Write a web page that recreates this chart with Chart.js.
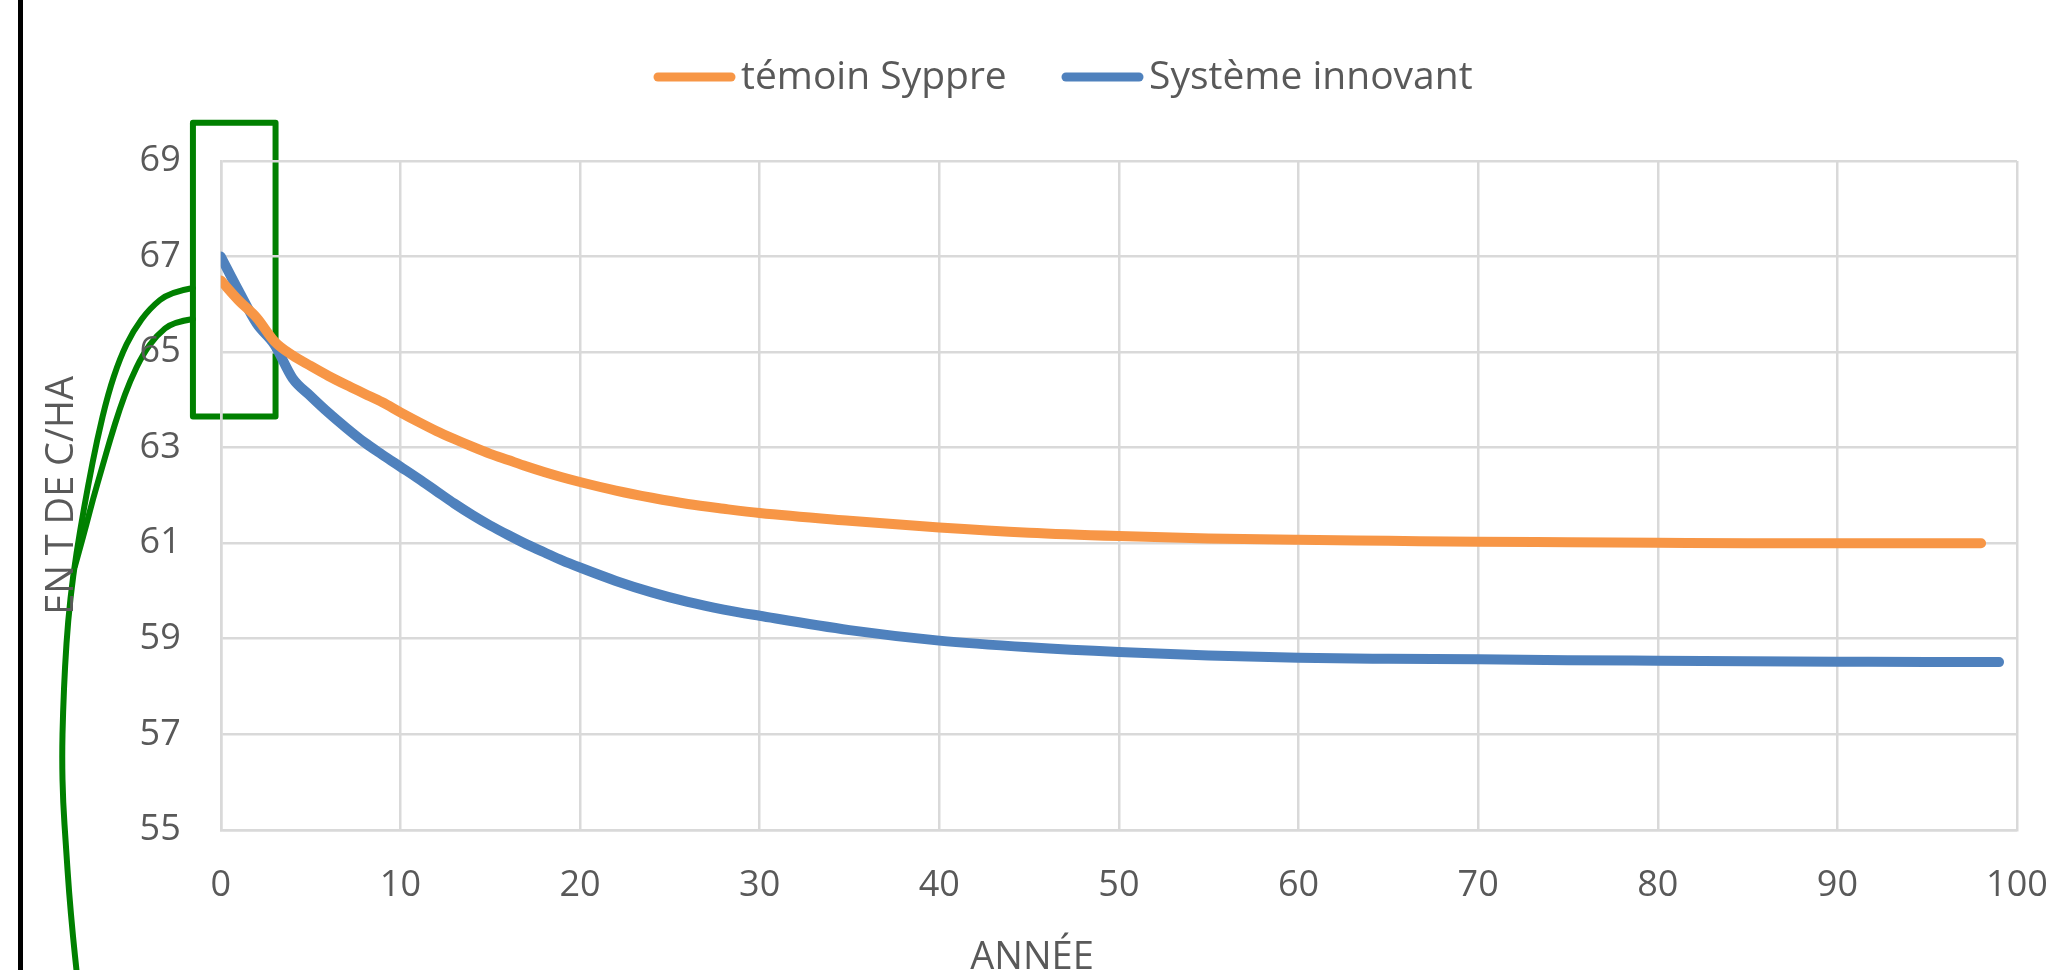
<!DOCTYPE html>
<html lang="fr">
<head>
<meta charset="utf-8">
<script src="https://cdn.jsdelivr.net/npm/chart.js@4.4.1/dist/chart.umd.min.js"></script>
<style>
  html, body { margin: 0; padding: 0; background: #fff; }
  #graphique { display: block; }
</style>
</head>
<body>
<canvas id="graphique" width="2066" height="970"></canvas>
<script>
// Données
const annees = [0, 1, 2, 3, 4, 5, 6, 7, 8, 9, 10, 11, 12, 13, 14, 15, 16, 17, 18, 19, 20,
  22, 24, 26, 28, 30, 35, 40, 45, 50, 55, 60, 65, 70, 75, 80, 85, 90, 95, 98, 99];

const temoinSyppre = [66.5, 66.08, 65.72, 65.22, 64.93, 64.71, 64.5, 64.31, 64.13, 63.95, 63.74,
  63.54, 63.35, 63.18, 63.02, 62.87, 62.74, 62.61, 62.49, 62.38, 62.28,
  62.1, 61.95, 61.82, 61.72, 61.63, 61.47, 61.33, 61.22, 61.15, 61.1, 61.07, 61.05,
  61.03, 61.02, 61.01, 61.0, 61.0, 61.0, 61.0, null];

const systemeInnovant = [67.0, 66.28, 65.6, 65.15, 64.45, 64.08, 63.73, 63.41, 63.11, 62.85, 62.6,
  62.35, 62.09, 61.83, 61.59, 61.37, 61.17, 60.98, 60.81, 60.64, 60.49,
  60.21, 59.97, 59.77, 59.61, 59.48, 59.18, 58.96, 58.82, 58.72, 58.65, 58.6, 58.58,
  58.57, 58.55, 58.54, 58.53, 58.52, 58.51, 58.51, 58.51];

const ticksX = [0, 10, 20, 30, 40, 50, 60, 70, 80, 90, 100];
const ticksY = [55, 57, 59, 61, 63, 65, 67, 69];

const gris = '#595959';
const police = '"Open Sans", sans-serif';

// tracé lissé de l'accolade verte (points en pixels)
function courbe(ctx, pts) {
  ctx.beginPath();
  ctx.moveTo(pts[0][0], pts[0][1]);
  for (let i = 1; i < pts.length - 1; i++) {
    const mx = (pts[i][0] + pts[i + 1][0]) / 2, my = (pts[i][1] + pts[i + 1][1]) / 2;
    ctx.quadraticCurveTo(pts[i][0], pts[i][1], mx, my);
  }
  const n = pts[pts.length - 1];
  ctx.lineTo(n[0], n[1]);
  ctx.stroke();
}

// Cadre vert, accolade, trait noir, titre X et légende
const annotations = {
  id: 'annotations',
  beforeDraw(chart) {
    const ctx = chart.ctx;
    const x = chart.scales.x, y = chart.scales.y;
    ctx.save();
    ctx.fillStyle = '#000';
    ctx.fillRect(18, 0, 5, chart.height);

    const l = x.getPixelForValue(-1.55), r = x.getPixelForValue(3.05);
    const t = y.getPixelForValue(69.8), b = y.getPixelForValue(63.65);
    ctx.strokeStyle = '#008000';
    ctx.lineJoin = 'round';
    ctx.lineCap = 'round';
    ctx.lineWidth = 6;
    ctx.strokeRect(l, t, r - l, b - t);

    ctx.lineWidth = 6;
    courbe(ctx, [[l, 288], [170, 292], [150, 308], [133, 331], [120, 358], [108, 394], [97, 440],
      [88, 486], [80, 531], [73, 576], [68, 621], [65, 666], [63, 712], [62, 757], [63, 802],
      [66, 847], [69, 892], [73, 937], [77, 975]]);
    courbe(ctx, [[l, 319], [173, 322], [157, 335], [143, 354], [130, 381], [120, 408], [110, 440],
      [102, 468], [93, 499], [86, 526], [80, 548], [75, 566]]);
    ctx.restore();
  },
  afterDraw(chart) {
    const ctx = chart.ctx;
    ctx.save();
    ctx.fillStyle = gris;
    ctx.font = '38px ' + police;
    ctx.textAlign = 'center';
    ctx.textBaseline = 'alphabetic';
    ctx.fillText('ANNÉE', chart.width / 2 - 1, 969);

    // légende
    const departs = [658, 1066];
    ctx.font = '39px ' + police;
    ctx.textAlign = 'left';
    ctx.lineCap = 'round';
    ctx.lineWidth = 9;
    chart.data.datasets.forEach((ds, i) => {
      ctx.strokeStyle = ds.borderColor;
      ctx.beginPath();
      ctx.moveTo(departs[i], 77);
      ctx.lineTo(departs[i] + 73, 77);
      ctx.stroke();
      ctx.fillText(ds.label, departs[i] + 83, 89);
    });
    ctx.restore();
  }
};

const ctx = document.getElementById('graphique').getContext('2d');
new Chart(ctx, {
  type: 'line',
  data: {
    datasets: [{
      label: 'témoin Syppre',
      data: annees.map((a, i) => ({ x: a, y: temoinSyppre[i] })),
      borderColor: '#F79646',
      backgroundColor: '#F79646',
      borderWidth: 10,
      borderCapStyle: 'round',
      borderJoinStyle: 'round',
      cubicInterpolationMode: 'monotone',
      pointRadius: 0,
      spanGaps: false
    }, {
      label: 'Système innovant',
      data: annees.map((a, i) => ({ x: a, y: systemeInnovant[i] })),
      borderColor: '#4F81BD',
      backgroundColor: '#4F81BD',
      borderWidth: 10,
      borderCapStyle: 'round',
      borderJoinStyle: 'round',
      cubicInterpolationMode: 'monotone',
      pointRadius: 0
    }]
  },
  options: {
    responsive: false,
    animation: false,
    devicePixelRatio: 1,
    layout: { padding: { left: 24, right: 49, top: 161, bottom: 29 } },
    plugins: {
      legend: { display: false },
      tooltip: { enabled: false }
    },
    scales: {
      x: {
        type: 'linear',
        min: 0,
        max: 100,
        afterBuildTicks: axis => { axis.ticks = ticksX.map(v => ({ value: v })); },
        afterFit: axis => { axis.paddingRight = 0; },
        grid: { color: '#d9d9d9', lineWidth: 2.5, drawTicks: false },
        border: { color: '#d9d9d9', width: 2.5 },
        ticks: { color: gris, font: { family: police, size: 36 }, padding: 34, maxRotation: 0 }
      },
      y: {
        min: 55,
        max: 69,
        afterBuildTicks: axis => { axis.ticks = ticksY.map(v => ({ value: v })); },
        grid: { color: '#d9d9d9', lineWidth: 2.5, drawTicks: false },
        border: { color: '#d9d9d9', width: 2.5 },
        ticks: { color: gris, font: { family: police, size: 36 }, padding: 40 },
        title: {
          display: true,
          text: 'EN T DE C/HA',
          color: gris,
          font: { family: police, size: 38 },
          padding: 15
        }
      }
    }
  },
  plugins: [annotations]
});
</script>
</body>
</html>
